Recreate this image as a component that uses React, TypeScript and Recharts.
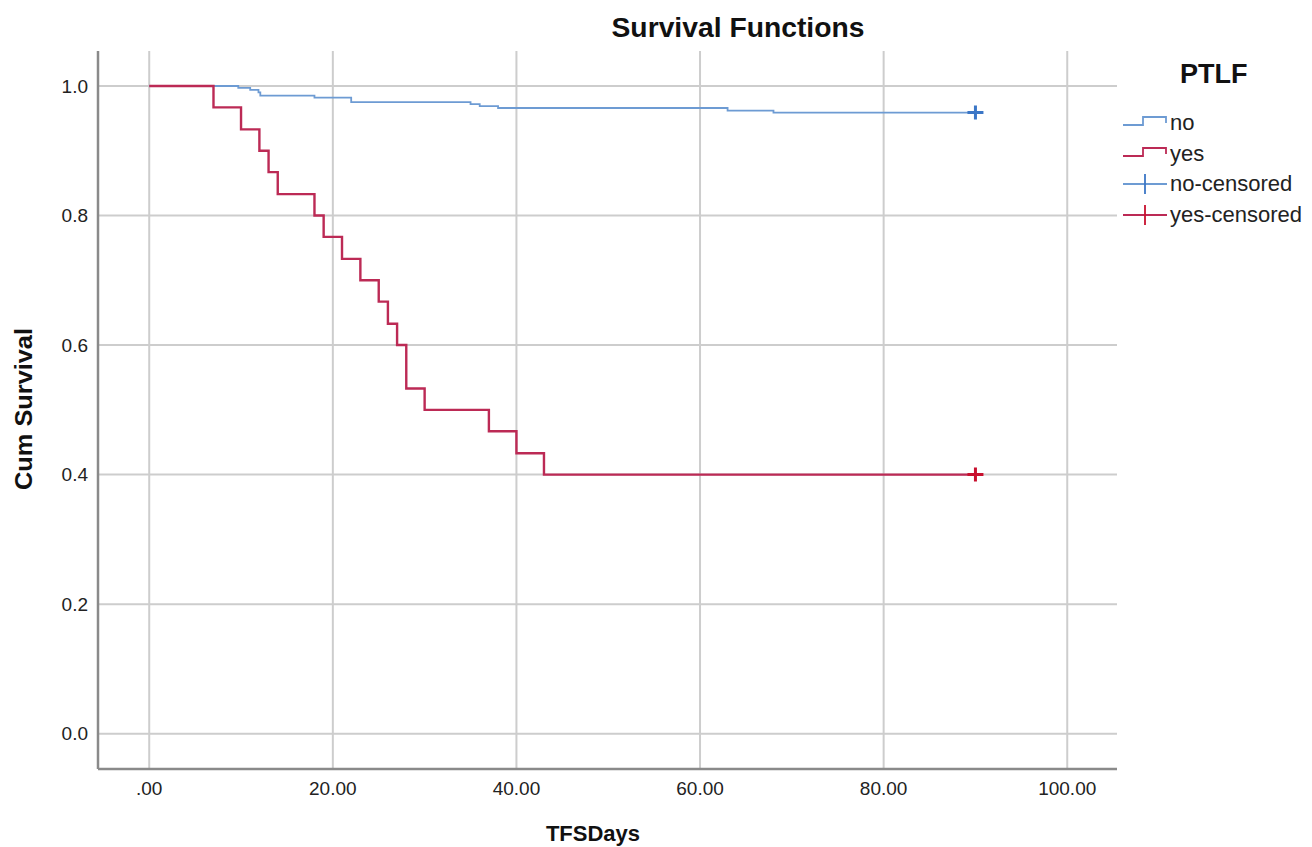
import React from 'react';
import {
  ComposedChart,
  Line,
  Scatter,
  XAxis,
  YAxis,
  CartesianGrid,
} from 'recharts';

// Kaplan-Meier steps: time (days) and cumulative survival
const noTimes = [0, 9.7, 11, 11.9, 12.1, 18, 22, 35, 36, 38, 63, 68, 90];
const noSurvival = [1, 0.997, 0.994, 0.99, 0.985, 0.982, 0.975, 0.972, 0.969, 0.966, 0.962, 0.959, 0.959];

const yesTimes = [0, 7, 10, 12, 13, 14, 18, 19, 21, 23, 25, 26, 27, 28, 30, 37, 40, 43, 90];
const yesSurvival = [1, 0.967, 0.933, 0.9, 0.867, 0.833, 0.8, 0.767, 0.733, 0.7, 0.667, 0.633, 0.6, 0.533, 0.5, 0.467, 0.433, 0.4, 0.4];

const censorTimes = [90];

const xTicks = [0, 20, 40, 60, 80, 100];
const yTicks = [0, 0.2, 0.4, 0.6, 0.8, 1.0];

const legendLabels = ['no', 'yes', 'no-censored', 'yes-censored'];

const FONT = '"Liberation Sans", Arial, Helvetica, sans-serif';
const BLUE = '#6d9bd3';
const BLUE_MARK = '#3b76c6';
const RED = '#bc2a55';
const RED_MARK = '#c8102e';

const toPoints = (times: number[], surv: number[]) =>
  times.map((t, i) => ({ t, s: surv[i] }));

const noData = toPoints(noTimes, noSurvival);
const yesData = toPoints(yesTimes, yesSurvival);
const noCensored = censorTimes.map((t) => ({ t, s: noSurvival[noSurvival.length - 1] }));
const yesCensored = censorTimes.map((t) => ({ t, s: yesSurvival[yesSurvival.length - 1] }));

const plusShape = (color: string) => (props: any) => {
  const { cx, cy } = props;
  return (
    <path
      d={`M${cx - 8},${cy}H${cx + 8}M${cx},${cy - 7}V${cy + 7}`}
      stroke={color}
      strokeWidth={3}
      fill="none"
    />
  );
};

function StepIcon({ color }: { color: string }) {
  return (
    <svg width={46} height={24} style={{ display: 'block' }}>
      <path d="M1,14H21V6H44V12" stroke={color} strokeWidth={1.8} fill="none" />
    </svg>
  );
}

function CensorIcon({ color, mark }: { color: string; mark: string }) {
  return (
    <svg width={46} height={24} style={{ display: 'block' }}>
      <path d="M1,12H45" stroke={color} strokeWidth={1.8} fill="none" />
      <path d="M23,2V22" stroke={mark} strokeWidth={1.8} fill="none" />
    </svg>
  );
}

function LegendBox() {
  const icons = [
    <StepIcon color={BLUE} />,
    <StepIcon color={RED} />,
    <CensorIcon color={BLUE} mark={BLUE_MARK} />,
    <CensorIcon color={RED} mark={RED_MARK} />,
  ];
  return (
    <div style={{ position: 'absolute', left: 1110, top: 55, width: 200, height: 180, fontFamily: FONT }}>
      <div
        style={{
          position: 'absolute',
          left: 70,
          top: 4,
          fontSize: 27,
          fontWeight: 'bold',
          lineHeight: '31px',
          color: '#111',
        }}
      >
        PTLF
      </div>
      {legendLabels.map((label, i) => (
        <div
          key={label}
          style={{
            position: 'absolute',
            left: 12,
            top: 56 + i * 30.5,
            height: 24,
            display: 'flex',
            alignItems: 'center',
            fontSize: 22,
            color: '#222',
            whiteSpace: 'nowrap',
          }}
        >
          {icons[i]}
          <span style={{ marginLeft: 2 }}>{label}</span>
        </div>
      ))}
    </div>
  );
}

export default function App() {
  return (
    <div style={{ position: 'absolute', left: 0, top: 0, width: 1312, height: 847, background: '#fff' }}>
      <ComposedChart
        width={1312}
        height={847}
        margin={{ top: 51, right: 195, left: 38, bottom: 38 }}
        style={{ fontFamily: FONT }}
      >
        <CartesianGrid
          stroke="#cdcdcd"
          strokeWidth={2}
          horizontalValues={yTicks}
          verticalValues={xTicks}
        />
        <XAxis
          dataKey="t"
          type="number"
          domain={[-5.58, 105.42]}
          ticks={xTicks}
          allowDataOverflow
          tickFormatter={(v: number) => (v === 0 ? '.00' : v.toFixed(2))}
          tickLine={false}
          tickSize={0}
          tickMargin={13}
          height={40}
          stroke="#8a8a8a"
          strokeWidth={2.5}
          tick={{ fill: '#222', fontSize: 19 }}
        />
        <YAxis
          dataKey="s"
          type="number"
          domain={[-0.0545, 1.054]}
          ticks={yTicks}
          allowDataOverflow
          tickFormatter={(v: number) => v.toFixed(1)}
          tickLine={false}
          tickSize={0}
          tickMargin={10}
          width={60}
          stroke="#8a8a8a"
          strokeWidth={2.5}
          tick={{ fill: '#222', fontSize: 19 }}
        />
        <Line
          data={noData}
          dataKey="s"
          name="no"
          type="stepAfter"
          stroke={BLUE}
          strokeWidth={1.8}
          dot={false}
          activeDot={false}
          isAnimationActive={false}
        />
        <Line
          data={yesData}
          dataKey="s"
          name="yes"
          type="stepAfter"
          stroke={RED}
          strokeWidth={2.4}
          dot={false}
          activeDot={false}
          isAnimationActive={false}
        />
        <Scatter data={noCensored} name="no-censored" shape={plusShape(BLUE_MARK)} isAnimationActive={false} />
        <Scatter data={yesCensored} name="yes-censored" shape={plusShape(RED_MARK)} isAnimationActive={false} />
      </ComposedChart>
      <LegendBox />
      <svg
        width={1312}
        height={847}
        style={{ position: 'absolute', left: 0, top: 0, pointerEvents: 'none' }}
      >
        <text
          x={738}
          y={37}
          textAnchor="middle"
          fontFamily={FONT}
          fontWeight="bold"
          fontSize={27}
          fill="#111"
          textLength={253}
          lengthAdjust="spacingAndGlyphs"
        >
          Survival Functions
        </text>
        <text
          x={593}
          y={841}
          textAnchor="middle"
          fontFamily={FONT}
          fontWeight="bold"
          fontSize={22}
          fill="#111"
        >
          TFSDays
        </text>
        <text
          transform="translate(32,409) rotate(-90)"
          textAnchor="middle"
          fontFamily={FONT}
          fontWeight="bold"
          fontSize={24}
          fill="#111"
          textLength={162}
          lengthAdjust="spacingAndGlyphs"
        >
          Cum Survival
        </text>
      </svg>
    </div>
  );
}
